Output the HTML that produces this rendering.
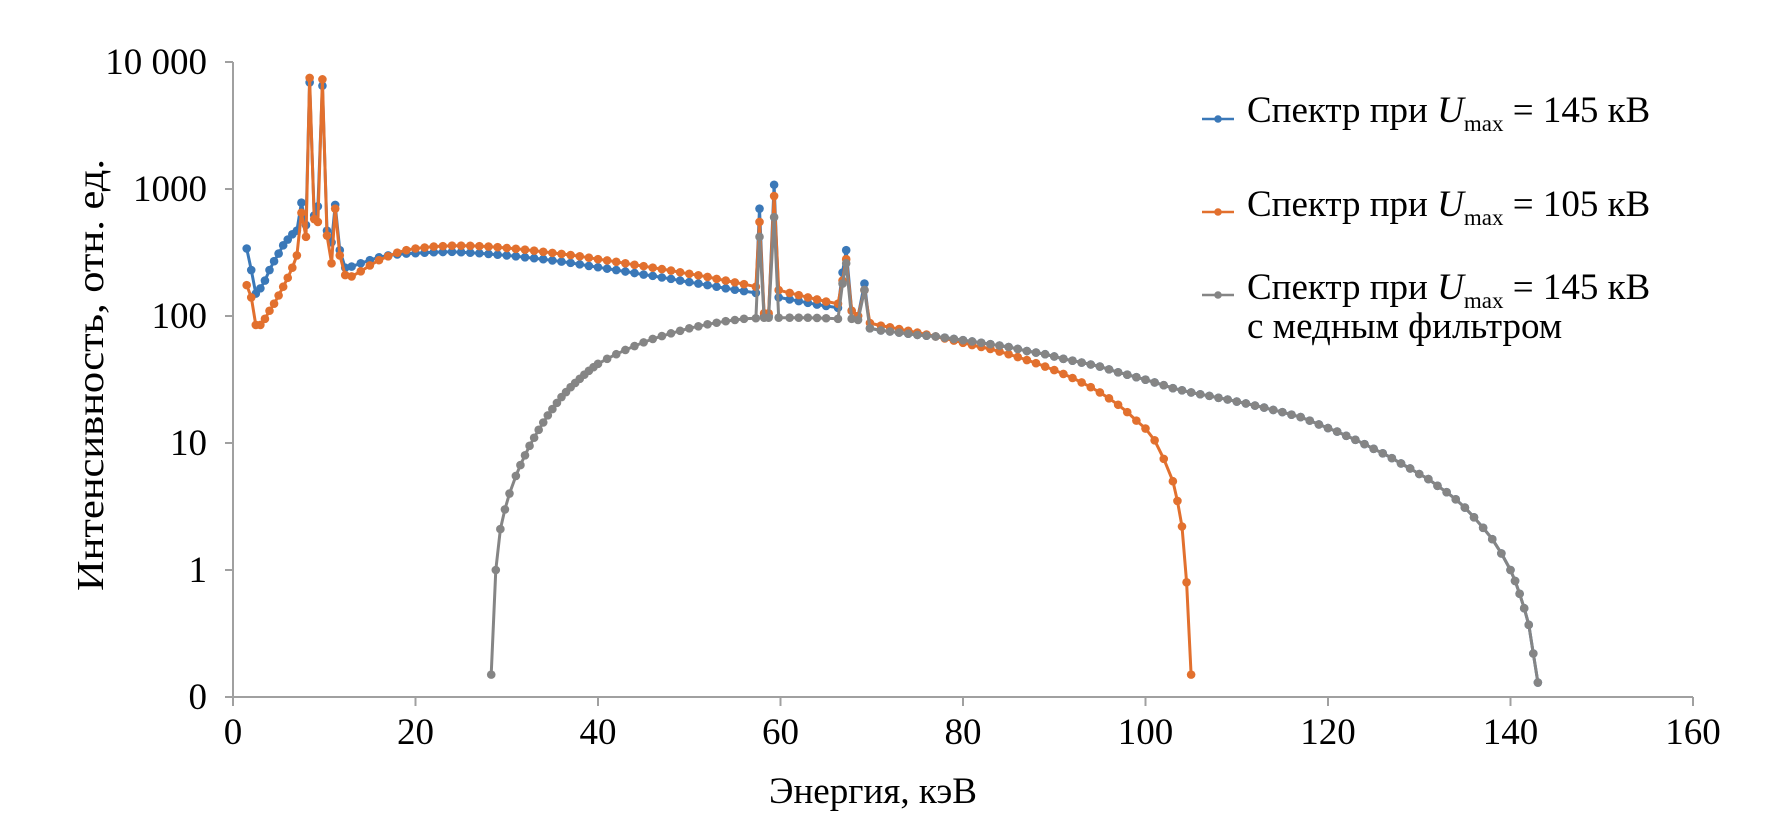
<!DOCTYPE html>
<html><head><meta charset="utf-8"><style>
html,body{margin:0;padding:0;background:#fff;}
svg{display:block;font-family:"Liberation Serif","DejaVu Serif",serif;}
</style></head><body>
<svg id="chart" width="1766" height="827" viewBox="0 0 1766 827" xmlns="http://www.w3.org/2000/svg">
<g id="axes"></g>
<g id="series"></g>
<text transform="translate(103,375) rotate(-90)" text-anchor="middle" font-size="38" textLength="432" lengthAdjust="spacingAndGlyphs">Интенсивность, отн. ед.</text>
<text x="873" y="803" text-anchor="middle" font-size="37" textLength="208" lengthAdjust="spacingAndGlyphs">Энергия, кэВ</text>
<g font-size="37">
 <g>
  <line x1="1202" y1="119" x2="1234" y2="119" stroke="#3a78b8" stroke-width="2.5"/><circle cx="1218" cy="119" r="3.8" fill="#3a78b8"/>
  <text x="1247" y="122">Спектр при <tspan font-style="italic">U</tspan><tspan font-size="23" dy="9">max</tspan><tspan dy="-9"> = 145 кВ</tspan></text>
 </g>
 <g>
  <line x1="1202" y1="212" x2="1234" y2="212" stroke="#e2702e" stroke-width="2.5"/><circle cx="1218" cy="212" r="3.8" fill="#e2702e"/>
  <text x="1247" y="216">Спектр при <tspan font-style="italic">U</tspan><tspan font-size="23" dy="9">max</tspan><tspan dy="-9"> = 105 кВ</tspan></text>
 </g>
 <g>
  <line x1="1202" y1="295" x2="1234" y2="295" stroke="#858585" stroke-width="2.5"/><circle cx="1218" cy="295" r="3.8" fill="#858585"/>
  <text x="1247" y="299">Спектр при <tspan font-style="italic">U</tspan><tspan font-size="23" dy="9">max</tspan><tspan dy="-9"> = 145 кВ</tspan></text>
  <text x="1247" y="338">с медным фильтром</text>
 </g>
</g>
</svg>
<script>
const xTicks = [0,20,40,60,80,100,120,140,160];
const yTicks = [10000,1000,100,10,1,0.1];
const yTickLabels = ["10 000","1000","100","10","1","0"];
const blueSeries = [[1.5,340],[2,230],[2.5,150],[3,165],[3.5,190],[4,230],[4.5,270],[5,310],[5.5,360],[6,400],[6.5,440],[7,470],[7.5,780],[8,520],[8.4,6900],[8.9,620],[9.3,730],[9.8,6500],[10.3,470],[10.8,380],[11.2,750],[11.7,330],[12.3,240],[13,245],[14,260],[15,275],[16,290],[17,300],[18,305],[19,310],[20,312],[21,315],[22,318],[23,319],[24,320],[25,318],[26,315],[27,312],[28,308],[29,304],[30,300],[31,295],[32,290],[33,285],[34,280],[35,274],[36,268],[37,262],[38,255],[39,248],[40,242],[41,236],[42,230],[43,224],[44,218],[45,212],[46,207],[47,201],[48,196],[49,190],[50,185],[51,180],[52,175],[53,170],[54,165],[55,161],[56,157],[57.3,152],[57.7,700],[58.2,100],[58.7,100],[59.3,1080],[59.8,140],[61,135],[62,131],[63,127],[64,123],[65,120],[66.3,116],[66.8,220],[67.2,330],[67.8,110],[68.5,100],[69.2,180],[69.8,80],[71,77],[72,75.5],[73,74],[74,72.5],[75,71],[76,70],[77,69],[78,67.5],[79,66],[80,64.5],[81,63],[82,61.5],[83,60],[84,58.5],[85,57],[86,55],[87,53],[88,51.5],[89,50],[90,48],[91,46],[92,44.5],[93,43],[94,41.5],[95,40],[96,38],[97,36],[98,34.5],[99,33],[100,31.5],[101,30],[102,28.5],[103,27],[104,26],[105,25],[106,24.2],[107,23.5],[108,22.7],[109,22],[110,21.2],[111,20.5],[112,19.7],[113,19],[114,18.2],[115,17.5],[116,16.7],[117,16],[118,15],[119,14],[120,13.1],[121,12.3],[122,11.4],[123,10.6],[124,9.8],[125,9],[126,8.3],[127,7.6],[128,6.9],[129,6.3],[130,5.7],[131,5.2],[132,4.6],[133,4.1],[134,3.6],[135,3.1],[136,2.6],[137,2.15],[138,1.75],[139,1.35],[140,1.0],[140.5,0.82],[141,0.65],[141.5,0.5],[142,0.37],[142.5,0.22],[143,0.13]];
const orangeSeries = [[1.5,175],[2,140],[2.5,85],[3,85],[3.5,95],[4,110],[4.5,125],[5,145],[5.5,170],[6,200],[6.5,240],[7,300],[7.5,650],[8,420],[8.4,7500],[8.9,580],[9.3,550],[9.8,7300],[10.3,430],[10.8,260],[11.2,700],[11.7,300],[12.3,210],[13,205],[14,225],[15,250],[16,275],[17,295],[18,315],[19,330],[20,340],[21,346],[22,352],[23,355],[24,358],[25,358],[26,357],[27,355],[28,352],[29,348],[30,343],[31,338],[32,333],[33,327],[34,320],[35,314],[36,308],[37,302],[38,295],[39,288],[40,280],[41,274],[42,267],[43,260],[44,253],[45,247],[46,240],[47,234],[48,228],[49,221],[50,215],[51,209],[52,203],[53,196],[54,190],[55,184],[56,178],[57.3,170],[57.7,550],[58.2,105],[58.7,105],[59.3,880],[59.8,160],[61,152],[62,146],[63,140],[64,135],[65,130],[66.3,125],[66.8,190],[67.2,280],[67.8,110],[68.5,100],[69.2,160],[69.8,88],[71,84],[72,81.5],[73,79],[74,76.5],[75,74],[76,71.5],[77,69],[78,66.5],[79,64],[80,61.5],[81,59],[82,57],[83,55],[84,52.5],[85,50],[86,47.5],[87,45],[88,42.5],[89,40],[90,37.5],[91,35],[92,32.5],[93,30],[94,27.5],[95,25],[96,22.5],[97,20],[98,17.5],[99,15],[100,13],[101,10.5],[102,7.5],[103,5],[103.5,3.5],[104,2.2],[104.5,0.8],[105,0.15]];
const grayHead = [[28.3,0.15],[28.8,1.0],[29.3,2.1],[29.8,3],[30.3,4],[31,5.5],[31.5,6.7],[32,8],[32.5,9.5],[33,11],[33.5,12.7],[34,14.5],[34.5,16.5],[35,18.5],[35.5,20.7],[36,23],[36.5,25.2],[37,27.5],[37.5,29.7],[38,32],[38.5,34.5],[39,37],[39.5,39.5],[40,42],[41,46],[42,50],[43,54],[44,58],[45,62],[46,66],[47,69.5],[48,73],[49,76.5],[50,80],[51,83],[52,86],[53,88.5],[54,91],[55,93],[56,95],[57.3,96],[57.7,420],[58.2,97],[58.7,97],[59.3,600],[59.8,97],[61,97],[62,97],[63,97],[64,96.5],[65,96],[66.3,95],[66.8,180],[67.2,260],[67.8,95],[68.5,93],[69.2,160],[69.8,80]];
const graySeries = grayHead.concat(blueSeries.filter(p => p[0] >= 71));

const NS = "http://www.w3.org/2000/svg";
const X0 = 233, XS = 9.125, YB = 697, DEC = 127;
function xs(e){ return X0 + e*XS; }
function ys(v){ return YB - DEC*(Math.log10(v)+1); }
function mk(tag, attrs, parent){ const el=document.createElementNS(NS,tag); for(const k in attrs) el.setAttribute(k,attrs[k]); parent.appendChild(el); return el; }

const axes = document.getElementById('axes');
const yAxis = mk('line',{x1:X0,y1:ys(10000),x2:X0,y2:YB,stroke:'#a0a0a0','stroke-width':2},axes);


const xAxis = mk('line',{x1:X0,y1:YB,x2:xs(160),y2:YB,stroke:'#a0a0a0','stroke-width':2},axes);


yTicks.forEach((v,i)=>{
  mk('line',{x1:X0-8,y1:ys(v),x2:X0,y2:ys(v),stroke:'#a0a0a0','stroke-width':2},axes);
  const t = mk('text',{x:207,y:ys(v)+12,'text-anchor':'end','font-size':37},axes);
  t.textContent = yTickLabels[i];
  
  
});
xTicks.forEach(e=>{
  mk('line',{x1:xs(e),y1:YB,x2:xs(e),y2:YB+9,stroke:'#a0a0a0','stroke-width':2},axes);
  const t = mk('text',{x:xs(e),y:744,'text-anchor':'middle','font-size':37},axes);
  t.textContent = String(e);
  
  
});

const layer = document.getElementById('series');
function drawSeries(data, color, name){
  const g = mk('g',{},layer);
  
  
  const pts = data.map(p => xs(p[0]).toFixed(1)+','+ys(p[1]).toFixed(1)).join(' ');
  mk('polyline',{points:pts,fill:'none',stroke:color,'stroke-width':3,'stroke-linejoin':'round'},g);
  data.forEach(p=>{
    const c = mk('circle',{cx:xs(p[0]),cy:ys(p[1]),r:4.3,fill:color},g);
    
    
  });
}
drawSeries(blueSeries,'#3a78b8','series-145kv');
drawSeries(orangeSeries,'#e2702e','series-105kv');
drawSeries(graySeries,'#858585','series-145kv-cu-filter');
</script>
</body></html>
